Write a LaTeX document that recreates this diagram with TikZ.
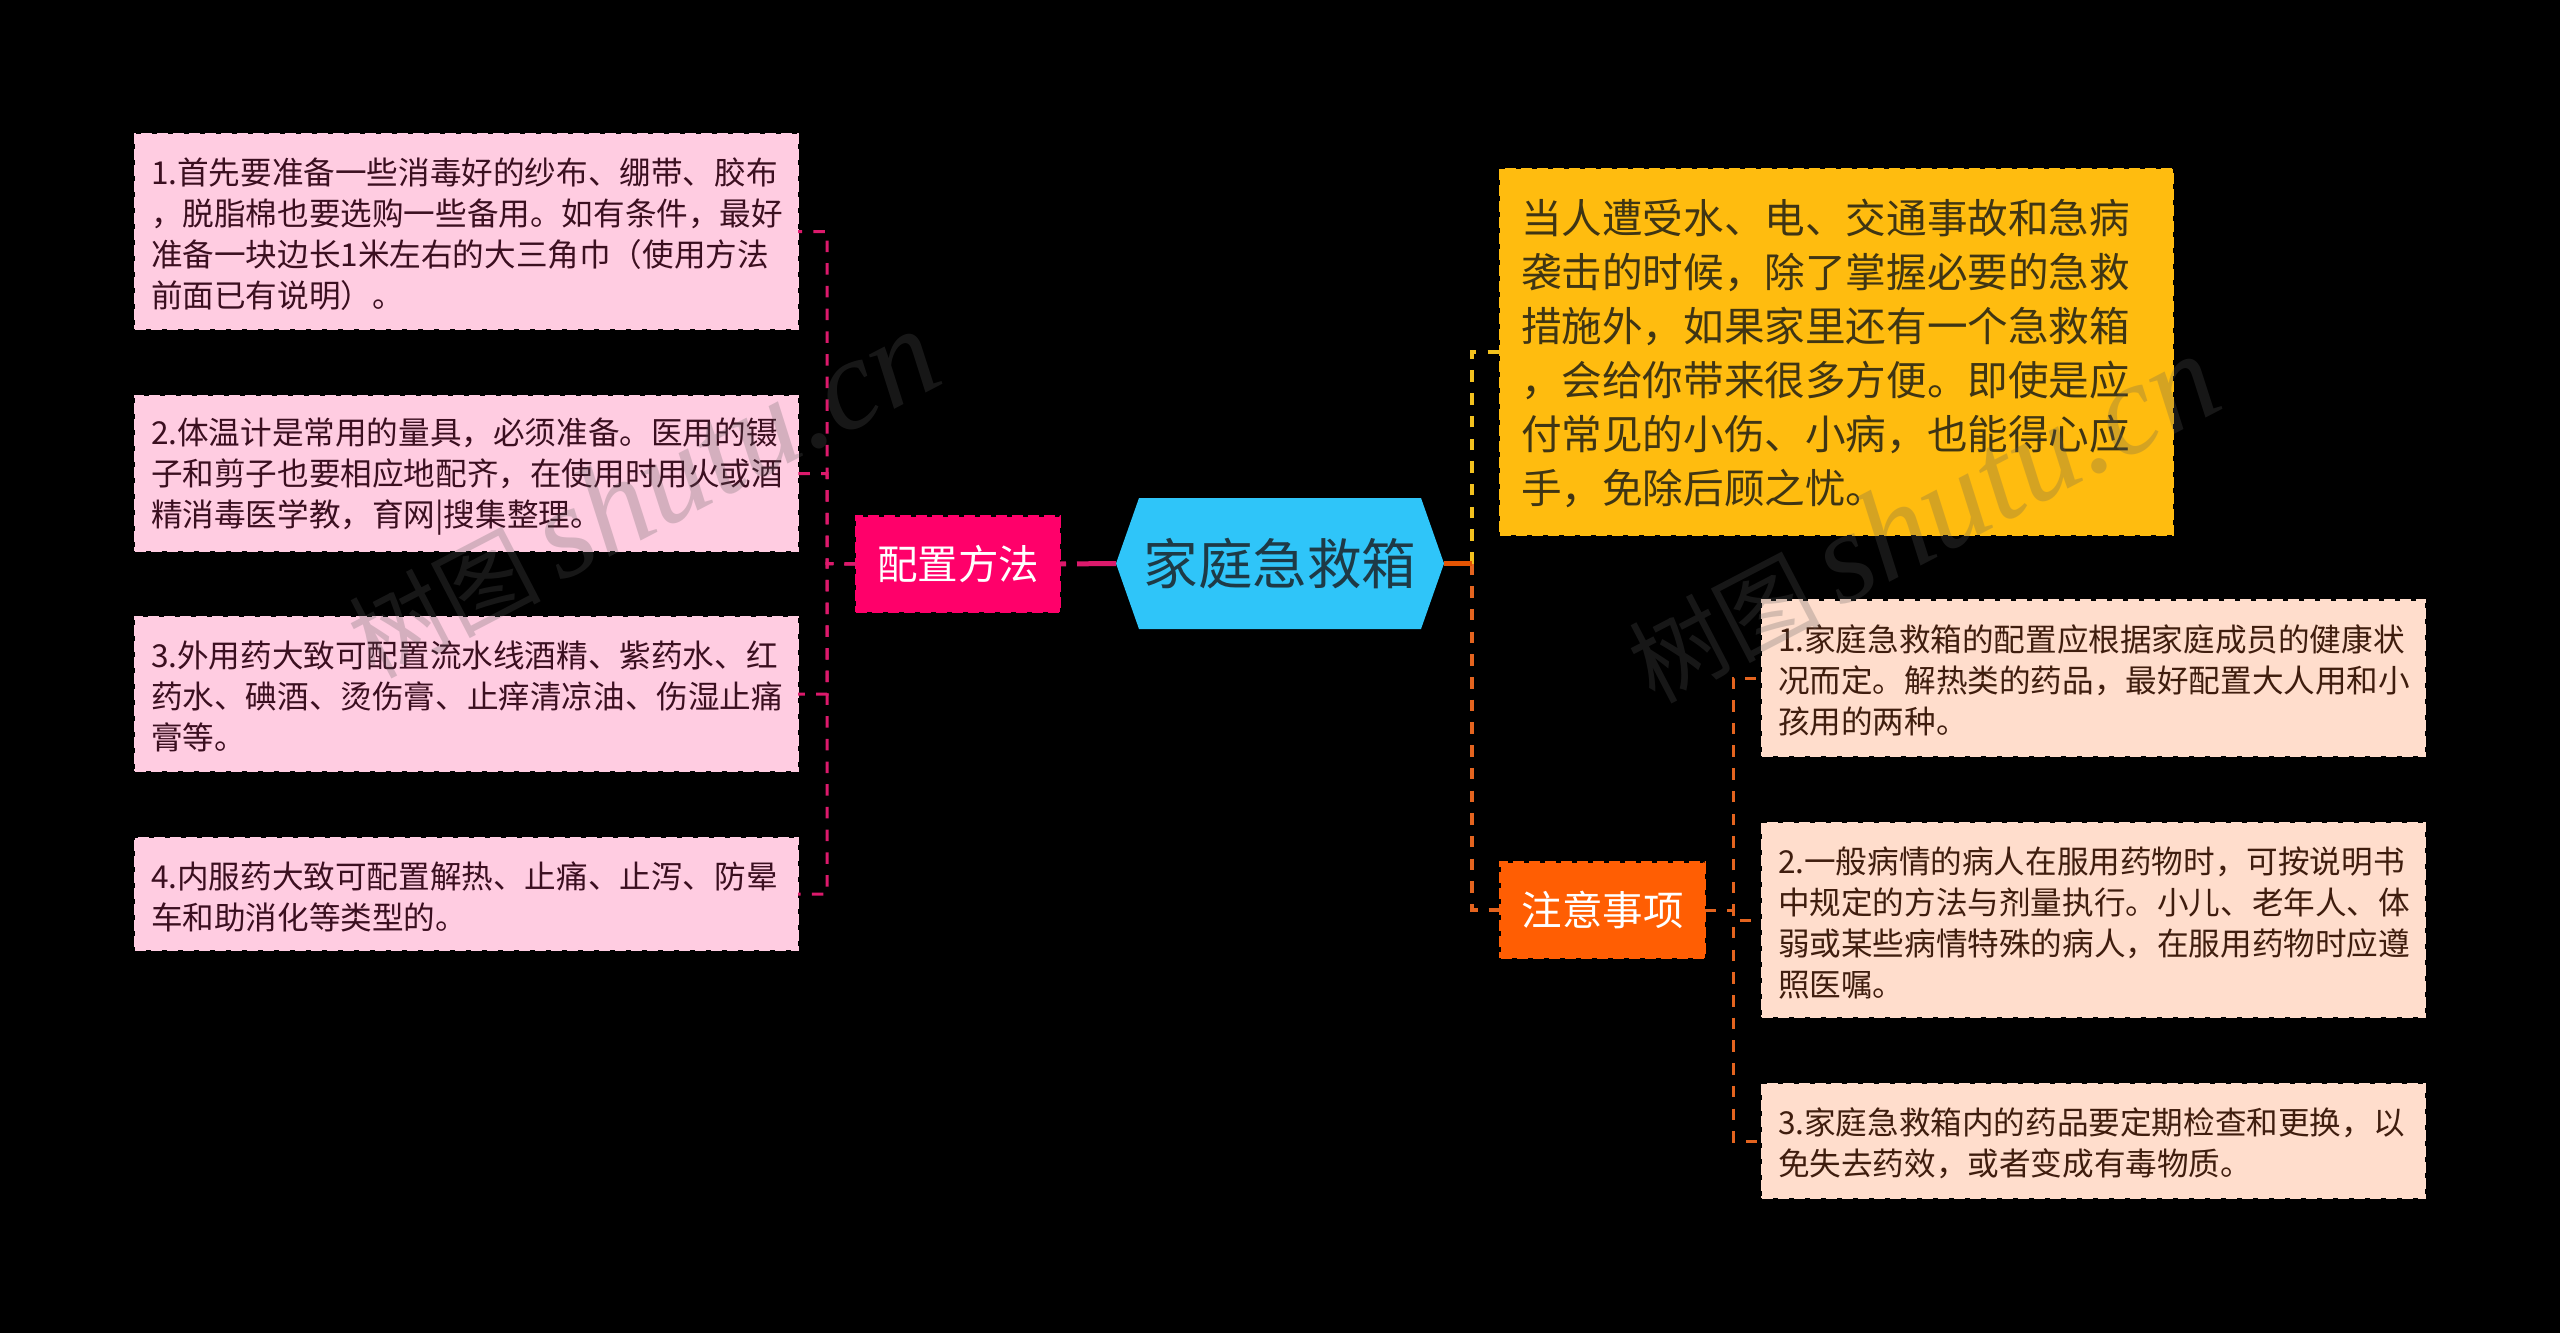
\documentclass[tikz,border=0pt]{standalone}
\usepackage{fontspec}
\setmainfont{Noto Sans CJK SC}
\newfontfamily\wmlatin{Liberation Serif}
\definecolor{pinkfill}{HTML}{FFCCE1}
\definecolor{pinktext}{HTML}{3B0F20}
\definecolor{peachfill}{HTML}{FFDDCC}
\definecolor{peachtext}{HTML}{3F1D0E}
\definecolor{yellowfill}{HTML}{FFBC0F}
\definecolor{yellowtext}{HTML}{3F3514}
\definecolor{rootfill}{HTML}{2FC5F9}
\definecolor{roottext}{HTML}{1E3A46}
\definecolor{hotpink}{HTML}{FF006A}
\definecolor{hotorange}{HTML}{FF5E03}
\definecolor{linepink}{HTML}{DC1A6C}
\definecolor{lineorange}{HTML}{E4641F}
\definecolor{lineyellow}{HTML}{F2C11E}
\tikzset{
  box/.style={rectangle,outer sep=0pt,inner ysep=0pt,inner xsep=16pt,align=left,
    line width=2.5pt,dash pattern=on 11pt off 5pt},
  small/.style={box,font=\fontsize{31.6}{41}\selectfont,text width=#1-32pt,minimum width=#1,
    execute at begin node={\vskip -9pt}},
  pinkbox/.style={small=663pt,fill=pinkfill,draw=pinkfill,text=pinktext},
  peachbox/.style={small=663pt,fill=peachfill,draw=peachfill,text=peachtext},
  introbox/.style={box,inner xsep=21pt,font=\fontsize{40.6}{54}\selectfont,text width=631pt,minimum width=673pt,
    fill=yellowfill,draw=yellowfill,text=yellowtext,execute at begin node={\vskip -17pt}},
  branch/.style={box,inner xsep=0pt,font=\fontsize{40.5}{48}\selectfont,minimum width=204pt,minimum height=95pt,
    text=white,align=center},
  lnk/.style={line width=3pt,dash pattern=on 11.5pt off 11.2pt},
  wide/.style={line width=4pt,dash pattern=on 11.5pt off 11.2pt},
  wmark/.style={text=black!64,opacity=0.26,rotate=27.5,inner sep=0pt},
}
\begin{document}
\begin{tikzpicture}[x=1pt,y=-1pt]
\useasboundingbox (0,0) rectangle (2560,1333);
\fill[black] (0,0) rectangle (2560,1333);

% coordinates of the trunk lines
\coordinate (lv) at (827,563.5);
\coordinate (rv) at (1472,563.5);
\coordinate (sv) at (1733,910);

% nodes
\node[pinkbox,minimum height=195pt] (b1) at (466.5,231.5) {1.首先要准备一些消毒好的纱布、绷带、胶布\\，脱脂棉也要选购一些备用。如有条件，最好\\准备一块边长1米左右的大三角巾（使用方法\\前面已有说明）。};
\node[pinkbox,minimum height=155pt] (b2) at (466.5,473.5) {2.体温计是常用的量具，必须准备。医用的镊\\子和剪子也要相应地配齐，在使用时用火或酒\\精消毒医学教，育网|搜集整理。};
\node[pinkbox,minimum height=154pt] (b3) at (466.5,694) {3.外用药大致可配置流水线酒精、紫药水、红\\药水、碘酒、烫伤膏、止痒清凉油、伤湿止痛\\膏等。};
\node[pinkbox,minimum height=112pt] (b4) at (466.5,894) {4.内服药大致可配置解热、止痛、止泻、防晕\\车和助消化等类型的。};

\node[branch,fill=hotpink,draw=hotpink] (pk) at (958,564) {配置方法};

\node[outer sep=0pt,inner sep=0pt,minimum width=328pt,minimum height=131pt] (root) at (1280,563.5) {};
\fill[rootfill] (root.west) -- ([xshift=23pt]root.north west) -- ([xshift=-23pt]root.north east)
  -- (root.east) -- ([xshift=-23pt]root.south east) -- ([xshift=23pt]root.south west) -- cycle;
\node[text=roottext,font=\fontsize{54.6}{60}\selectfont,inner sep=0pt] (roottitle) at (root.center) {家庭急救箱};

\node[introbox,minimum height=366pt] (y1) at (1836.5,352) {当人遭受水、电、交通事故和急病\\袭击的时候，除了掌握必要的急救\\措施外，如果家里还有一个急救箱\\，会给你带来很多方便。即使是应\\付常见的小伤、小病，也能得心应\\手，免除后顾之忧。};

\node[branch,fill=hotorange,draw=hotorange] (og) at (1602.5,910) {注意事项};

\node[peachbox,minimum height=155pt] (r1) at (2093.5,678) {1.家庭急救箱的配置应根据家庭成员的健康状\\况而定。解热类的药品，最好配置大人用和小\\孩用的两种。};
\node[peachbox,minimum height=194pt] (r2) at (2093.5,920) {2.一般病情的病人在服用药物时，可按说明书\\中规定的方法与剂量执行。小儿、老年人、体\\弱或某些病情特殊的病人，在服用药物时应遵\\照医嘱。};
\node[peachbox,minimum height=114pt] (r3) at (2093.5,1141) {3.家庭急救箱内的药品要定期检查和更换，以\\免失去药效，或者变成有毒物质。};

% connectors
\draw[line width=5pt,linepink,dash pattern=on 39pt off 11pt] (root.west) -- (pk.east);
\foreach \c in {b1,b2,b3,b4}
  \draw[lnk,linepink] (pk.west) -- (lv) -- (lv |- \c.east) -- (\c.east);
\draw[wide,lineyellow] (rv) -- (rv |- y1.west) -- (y1.west);
\draw[wide,lineorange] (rv) -- (rv |- og.west) -- (og.west);
\draw[line width=5pt,hotorange!90!black] (root.east) -- (rv);
\foreach \c in {r1,r2,r3}
  \draw[lnk,lineorange] (og.east) -- (sv) -- (sv |- \c.west) -- (\c.west);

% watermarks
\node[wmark] (wm1) at (642,494) {\fontsize{96}{110}\selectfont 树图\hspace{18pt}{\wmlatin\itshape\fontsize{130}{130}\selectfont shutu.cn}};
\node[wmark] (wm2) at (1922,519) {\fontsize{96}{110}\selectfont 树图\hspace{18pt}{\wmlatin\itshape\fontsize{130}{130}\selectfont shutu.cn}};
\end{tikzpicture}
\end{document}
